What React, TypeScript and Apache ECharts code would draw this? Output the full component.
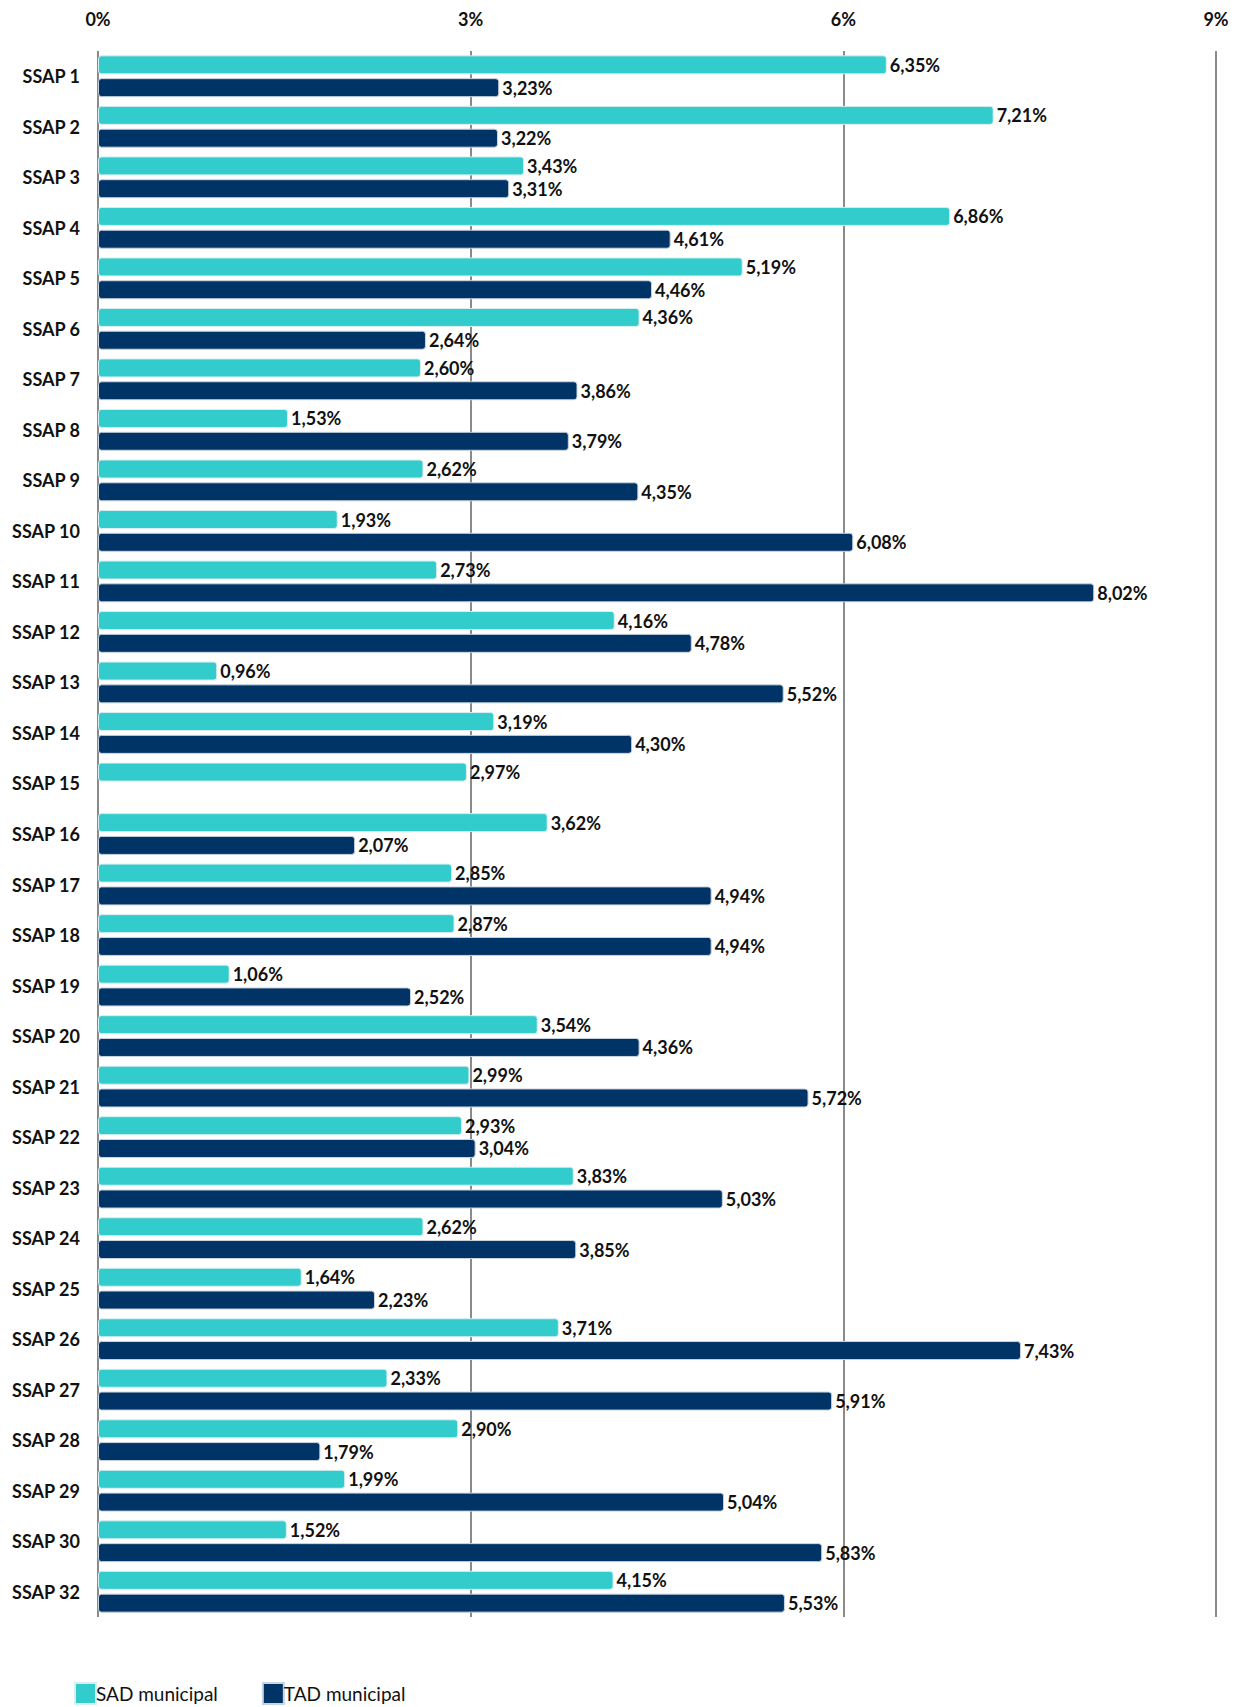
import React, { useEffect, useRef } from "react";
import * as echarts from "echarts";

const categories = [
  "SSAP 1", "SSAP 2", "SSAP 3", "SSAP 4", "SSAP 5", "SSAP 6", "SSAP 7", "SSAP 8",
  "SSAP 9", "SSAP 10", "SSAP 11", "SSAP 12", "SSAP 13", "SSAP 14", "SSAP 15", "SSAP 16",
  "SSAP 17", "SSAP 18", "SSAP 19", "SSAP 20", "SSAP 21", "SSAP 22", "SSAP 23", "SSAP 24",
  "SSAP 25", "SSAP 26", "SSAP 27", "SSAP 28", "SSAP 29", "SSAP 30", "SSAP 32",
];

const sadValues = [
  6.35, 7.21, 3.43, 6.86, 5.19, 4.36, 2.6, 1.53, 2.62, 1.93, 2.73, 4.16, 0.96, 3.19, 2.97, 3.62,
  2.85, 2.87, 1.06, 3.54, 2.99, 2.93, 3.83, 2.62, 1.64, 3.71, 2.33, 2.9, 1.99, 1.52, 4.15,
];

const tadValues: (number | null)[] = [
  3.23, 3.22, 3.31, 4.61, 4.46, 2.64, 3.86, 3.79, 4.35, 6.08, 8.02, 4.78, 5.52, 4.3, null, 2.07,
  4.94, 4.94, 2.52, 4.36, 5.72, 3.04, 5.03, 3.85, 2.23, 7.43, 5.91, 1.79, 5.04, 5.83, 5.53,
];

const xTicks = [0, 3, 6, 9];

const FONT = "Lato";

export default function App() {
  const ref = useRef<HTMLDivElement>(null);
  useEffect(() => {
    document.body.style.margin = "0";
    const chart = echarts.init(ref.current!, null, { renderer: "svg" });
    const fmt = (v: number) => v.toFixed(2).replace(".", ",") + "%";
    const labelCfg = {
      show: true,
      position: "right" as const,
      distance: 3,
      fontFamily: FONT,
      fontWeight: "bold" as const,
      fontSize: 18,
      color: "#111",
      formatter: (p: any) => fmt(p.value),
    };
    chart.setOption({
      animation: false,
      backgroundColor: "#fff",
      grid: { left: 98, right: 26, top: 51, bottom: 90, containLabel: false },
      legend: {
        left: 74,
        top: 1682,
        padding: 0,
        itemWidth: 21,
        itemHeight: 21,
        itemGap: 44,
        icon: "rect",
        data: ["SAD municipal", "TAD municipal"],
        textStyle: { fontFamily: FONT, fontSize: 19, color: "#111", padding: [2, 0, 0, -5] },
      },
      xAxis: {
        type: "value",
        position: "top",
        min: xTicks[0],
        max: xTicks[xTicks.length - 1],
        interval: 3,
        axisLine: { show: false },
        axisTick: { show: false },
        axisLabel: {
          formatter: "{value}%",
          fontFamily: FONT,
          fontWeight: "bold",
          fontSize: 18,
          color: "#111",
          margin: 23,
        },
        splitLine: { show: true, lineStyle: { color: "#8a8a8a", width: 2 } },
      },
      yAxis: {
        type: "category",
        inverse: true,
        data: categories,
        axisLine: { show: false },
        axisTick: { show: false },
        axisLabel: {
          fontFamily: FONT,
          fontWeight: "bold",
          fontSize: 18,
          color: "#111",
          margin: 18,
        },
      },
      series: [
        {
          name: "SAD municipal",
          type: "bar",
          data: sadValues,
          barWidth: 19,
          barGap: "20%",
          itemStyle: { color: "#33CCCC", borderRadius: 3, borderColor: "#d9eef0", borderWidth: 1 },
          label: labelCfg,
        },
        {
          name: "TAD municipal",
          type: "bar",
          data: tadValues,
          barWidth: 19,
          barGap: "20%",
          itemStyle: { color: "#003366", borderRadius: 3, borderColor: "#c9d4de", borderWidth: 1 },
          label: labelCfg,
        },
      ],
    });
    return () => chart.dispose();
  }, []);
  return <div ref={ref} style={{ width: 1242, height: 1707 }} />;
}
